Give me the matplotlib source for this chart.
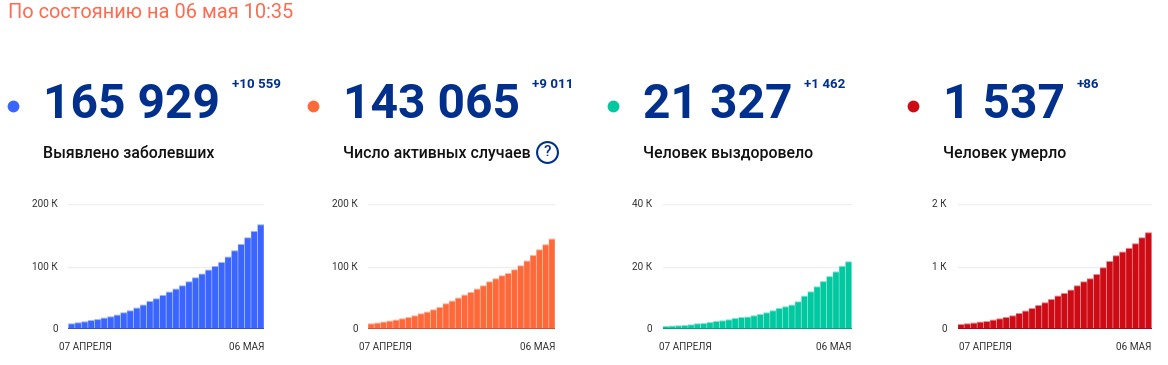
import matplotlib
matplotlib.use("Agg")
import matplotlib.pyplot as plt

plt.rcParams['font.family'] = ['Roboto', 'DejaVu Sans']

W, H = 1168, 365
title = "По состоянию на 06 мая 10:35"
labels = ["Выявлено заболевших", "Число активных случаев", "Человек выздоровело", "Человек умерло"]
totals = ["165 929", "143 065", "21 327", "1 537"]
deltas = ["+10 559", "+9 011", "+1 462", "+86"]
colors = ["#3A66FF", "#FF693A", "#00C8A0", "#CE0A14"]
light = ["#9DB3FF", "#FFB49C", "#80E4D0", "#E78589"]
dark = ["#2F52CC", "#CC542E", "#00A080", "#A50810"]
date_start = "07 АПРЕЛЯ"
date_end = "06 МАЯ"

detected = [8.6, 10.2, 11.8, 13.9, 15.5, 17.7, 19.8, 22.5, 26.3, 29.5, 33.8, 38.6, 44.5, 48.8, 54.2,
            59.5, 64.3, 69.7, 76.1, 82.6, 88.5, 94.9, 100.8, 107.2, 115.8, 126.0, 136.2, 146.9, 157.1, 167.8]
active = [8.6, 9.7, 11.3, 12.9, 14.5, 16.6, 18.8, 21.4, 24.7, 27.3, 31.1, 34.9, 40.8, 45.0, 49.9,
          54.7, 59.0, 64.3, 69.7, 76.1, 81.0, 85.8, 89.5, 95.4, 101.9, 109.4, 118.5, 127.6, 135.7, 144.8]
recovered = [0.86, 0.97, 1.07, 1.18, 1.39, 1.72, 1.82, 2.14, 2.47, 2.68, 3.0, 3.43, 3.75, 3.86, 4.29,
             4.72, 5.25, 5.9, 6.65, 7.18, 7.72, 8.79, 10.6, 12.0, 13.6, 15.3, 16.9, 18.4, 20.2, 21.66]
deaths = [0.075, 0.086, 0.097, 0.113, 0.123, 0.145, 0.166, 0.188, 0.214, 0.252, 0.290, 0.332, 0.381, 0.424, 0.477,
          0.531, 0.574, 0.627, 0.697, 0.761, 0.810, 0.879, 0.987, 1.088, 1.180, 1.239, 1.298, 1.373, 1.469, 1.550]
series = [detected, active, recovered, deaths]
y_maxes = [200, 200, 40, 2]
y_tick_labels = [["0", "100 К", "200 К"], ["0", "100 К", "200 К"], ["0", "20 К", "40 К"], ["0", "1 К", "2 К"]]

dot_x = [13, 313, 613, 913]
text_x = [43, 343, 643, 943]
delta_x = [232, 532, 804, 1077]
plot_l = [68.3, 368, 662.7, 957.7]
plot_r = [264, 555, 851.7, 1151.7]
tick_r = [58, 358, 652, 947]
start_x = [59, 359, 659, 959]
plot_top, plot_bottom = 204.3, 328.7
navy = "#00308C"

fig = plt.figure(figsize=(W / 100, H / 100), dpi=100, facecolor="white")
ov = fig.add_axes([0, 0, 1, 1], zorder=5)
ov.set_xlim(0, W)
ov.set_ylim(H, 0)
ov.axis("off")
ov.patch.set_alpha(0)

ov.text(8, 17.5, title, color="#FF6B50", fontsize=14.4, va="baseline", ha="left")

for i in range(4):
    ov.scatter([dot_x[i]], [106], s=72, color=colors[i], linewidths=0)
    ov.text(text_x[i], 118.5, totals[i], color=navy, fontsize=34.6, fontweight="bold", va="baseline", ha="left")
    ov.text(delta_x[i], 85, deltas[i], color=navy, fontsize=9.6, fontweight="bold", va="center", ha="left")
    ov.text(text_x[i], 153.5, labels[i], color="#111111", fontsize=11.4, fontweight="medium", va="center", ha="left")
    ov.text(start_x[i], 347.5, date_start, color="#333333", fontsize=7.2, va="center", ha="left")
    ov.text(plot_r[i], 347.5, date_end, color="#333333", fontsize=7.2, va="center", ha="right")

    ax = fig.add_axes([plot_l[i] / W, 1 - plot_bottom / H,
                       (plot_r[i] - plot_l[i]) / W, (plot_bottom - plot_top) / H])
    ax.set_facecolor("none")
    under = ax.bar(range(30), series[i], width=1.0, color=light[i], linewidth=0, zorder=2)
    over = ax.bar(range(30), [v - y_maxes[i] * 0.008 for v in series[i]], width=0.88, color=colors[i], linewidth=0, zorder=3)
    for p in list(under) + list(over):
        p.set_snap(False)
    ax.axhline(0, color=dark[i], linewidth=1.4, zorder=4)
    ax.set_xlim(-0.5, 29.5)
    ax.set_ylim(0, y_maxes[i])
    ax.set_yticks([0, y_maxes[i] / 2, y_maxes[i]])
    ax.set_yticklabels([])
    ax.set_xticks([])
    ax.tick_params(length=0)
    ax.grid(axis="y", color="#EEEEEE", linewidth=1, zorder=0)
    ax.set_axisbelow(True)
    for s in ax.spines.values():
        s.set_visible(False)
    for j, lab in enumerate(y_tick_labels[i]):
        ov.text(tick_r[i], plot_bottom - j * (plot_bottom - plot_top) / 2, lab,
                color="#333333", fontsize=7.2, va="center", ha="right")

ov.scatter([547], [152], s=225, facecolors="white", edgecolors=navy, linewidths=1.5)
ov.text(547, 152, "?", color=navy, fontsize=11, fontweight="medium", va="center", ha="center")

fig.savefig("out.png", dpi=100)
